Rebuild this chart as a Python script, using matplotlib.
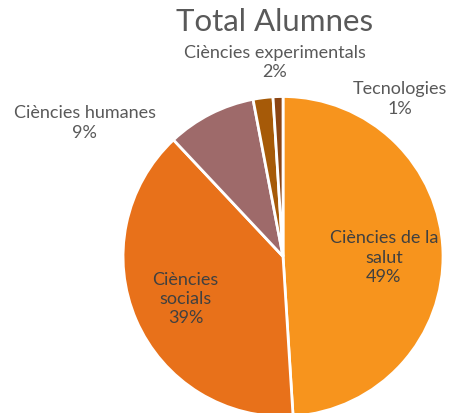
import matplotlib
matplotlib.use("Agg")
import matplotlib.pyplot as plt

# -------- Data --------
categories = ["Ciències de la salut", "Ciències socials", "Ciències humanes",
              "Ciències experimentals", "Tecnologies"]
percents = [49, 39, 9, 2, 1]
label_text = ["Ciències de la\nsalut\n49%", "Ciències\nsocials\n39%",
              "Ciències humanes\n9%", "Ciències experimentals\n2%",
              "Tecnologies\n1%"]
colors = ["#F7941D", "#E8711A", "#9E6A6A", "#A65A08", "#8B4513"]

# label anchor positions (pie radius = 1)
label_pos = [(0.63, 0.0), (-0.61, -0.26), (-1.24, 0.84), (-0.05, 1.22), (0.73, 0.99)]
label_color = ["#404040", "#404040", "#595959", "#595959", "#595959"]

plt.rcParams['font.family'] = ['Lato', 'DejaVu Sans']

fig = plt.figure(figsize=(4.5, 4.14), dpi=100)
ax = fig.add_axes([0.629 - 0.3556, 0.378 - 0.3865, 0.7111, 0.773])

ax.pie(percents, colors=colors, startangle=90, counterclock=False,
       wedgeprops=dict(edgecolor="white", linewidth=2))
ax.set_xlim(-1, 1)
ax.set_ylim(-1, 1)
ax.set_aspect("equal")

for txt, (x, y), c in zip(label_text, label_pos, label_color):
    ax.text(x, y, txt, ha="center", va="center", fontsize=13,
            color=c, linespacing=1.25, clip_on=False)

fig.text(275 / 450, 1 - 22 / 414, "Total Alumnes", ha="center", va="center",
         fontsize=22.5, color="#595959")

fig.savefig("out.png", dpi=100)
